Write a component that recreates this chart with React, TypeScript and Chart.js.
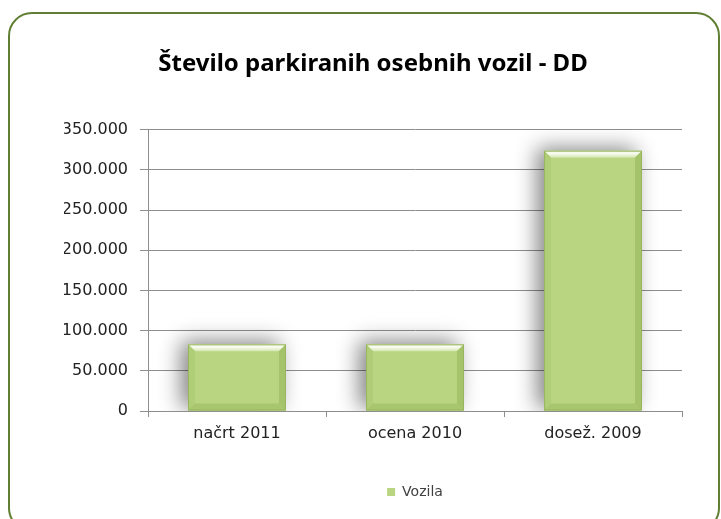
import React, { useEffect, useRef } from "react";
import { Chart, registerables } from "chart.js";

Chart.register(...registerables);

const titleText = "Število parkiranih osebnih vozil - DD";
const categories = ["načrt 2011", "ocena 2010", "dosež. 2009"];
const seriesName = "Vozila";
const seriesValues = [83000, 83000, 324000];
const yMin = 0;
const yMax = 350000;
const yStep = 50000;

const GRID = "#8e8e8e";
const BAR = "#b9d582";

const fmt = (v: number) => String(v).replace(/\B(?=(\d{3})+(?!\d))/g, ".");

const bevelPlugin = {
  id: "bevel",
  beforeDatasetsDraw(chart: any) {
    const ctx = chart.ctx;
    ctx.save();
    ctx.shadowColor = "rgba(0,0,0,0.48)";
    ctx.shadowBlur = 20;
    ctx.shadowOffsetX = -7;
    ctx.shadowOffsetY = -3;
  },
  afterDatasetsDraw(chart: any) {
    const ctx = chart.ctx;
    ctx.restore();
    const meta = chart.getDatasetMeta(0);
    meta.data.forEach((bar: any) => {
      const { x, y, base, width } = bar.getProps(["x", "y", "base", "width"], true);
      const l = x - width / 2;
      const r = x + width / 2;
      const t = Math.min(y, base);
      const b = Math.max(y, base);
      const d = 7;
      const poly = (pts: number[][], fill: any) => {
        ctx.beginPath();
        ctx.moveTo(pts[0][0], pts[0][1]);
        for (let i = 1; i < pts.length; i++) ctx.lineTo(pts[i][0], pts[i][1]);
        ctx.closePath();
        ctx.fillStyle = fill;
        ctx.fill();
      };
      ctx.save();
      const tg = ctx.createLinearGradient(0, t, 0, t + d);
      tg.addColorStop(0, "#e6f0d2");
      tg.addColorStop(0.35, "#fbfdf6");
      tg.addColorStop(1, "#d3e6ad");
      poly([[l, t], [r, t], [r - d, t + d], [l + d, t + d]], tg);
      poly([[l, t], [l + d, t + d], [l + d, b - d], [l, b]], "#b0cd78");
      poly([[r, t], [r, b], [r - d, b - d], [r - d, t + d]], "#a5c36a");
      poly([[l, b], [l + d, b - d], [r - d, b - d], [r, b]], "#a8c66d");
      ctx.strokeStyle = "#98b65e";
      ctx.lineWidth = 1;
      ctx.strokeRect(l + 0.5, t + 0.5, width - 1, b - t - 1);
      ctx.restore();
    });
  },
};

export default function App() {
  const ref = useRef<HTMLCanvasElement | null>(null);

  useEffect(() => {
    if (!ref.current) return;
    const chart = new Chart(ref.current, {
      type: "bar",
      data: {
        labels: categories,
        datasets: [
          {
            label: seriesName,
            data: seriesValues,
            backgroundColor: BAR,
            borderWidth: 0,
            categoryPercentage: 1,
            barPercentage: 0.55,
          },
        ],
      },
      plugins: [bevelPlugin],
      options: {
        animation: false,
        responsive: false,
        maintainAspectRatio: false,
        layout: { padding: { left: 64, right: 39, top: 0, bottom: 10 } },
        scales: {
          x: {
            grid: {
              display: true,
              drawOnChartArea: false,
              drawTicks: true,
              tickLength: 6,
              color: GRID,
              offset: true,
            },
            border: { display: true, color: GRID },
            ticks: {
              padding: 7,
              color: "#222",
              font: { family: "DejaVu Sans", size: 16 },
            },
            afterFit(scale: any) {
              scale.height = 64;
            },
          },
          y: {
            min: yMin,
            max: yMax,
            ticks: {
              stepSize: yStep,
              padding: 12,
              color: "#222",
              font: { family: "DejaVu Sans", size: 16 },
              callback: (v: any) => fmt(Number(v)),
            },
            grid: { color: GRID, tickLength: 8, drawTicks: true },
            border: { display: true, color: GRID },
            afterFit(scale: any) {
              scale.width = 84;
            },
          },
        },
        plugins: {
          title: {
            display: true,
            text: titleText,
            color: "#000",
            font: { family: "Noto Sans", size: 24, weight: "bold" },
            padding: { top: 50, bottom: 51 },
          },
          legend: {
            display: true,
            position: "bottom",
            fullSize: false,
            labels: {
              boxWidth: 8,
              boxHeight: 8,
              padding: 10,
              color: "#404040",
              font: { family: "DejaVu Sans", size: 14 },
            },
          },
          tooltip: { enabled: false },
        },
      },
    });
    return () => chart.destroy();
  }, []);

  return (
    <div>
      <div
        style={{
          position: "fixed",
          left: 8,
          top: 12,
          width: 712,
          height: 520,
          border: "2px solid #617f34",
          borderRadius: 24,
          boxSizing: "border-box",
        }}
      />
      <canvas
        ref={ref}
        width={721}
        height={519}
        style={{ position: "fixed", left: 0, top: 0, width: 721, height: 519 }}
      />
    </div>
  );
}
